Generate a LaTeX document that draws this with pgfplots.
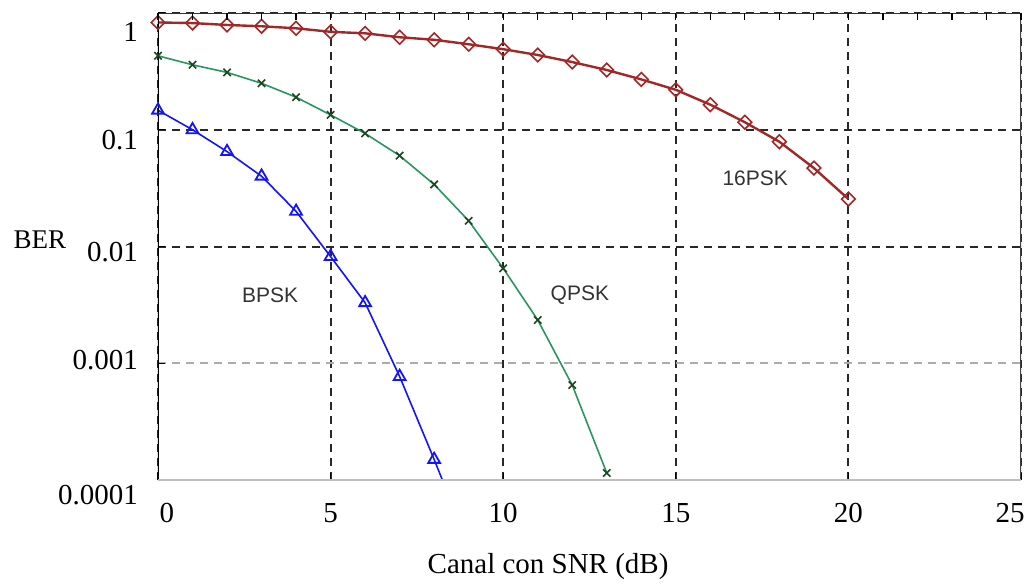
\documentclass[border=0pt]{standalone}
\usepackage{pgfplots}
\pgfplotsset{compat=1.18}
\usetikzlibrary{calc}
\usepackage{fontspec}
\setmainfont{Liberation Serif}
\newfontfamily\labfont{Liberation Sans}
\definecolor{cred}{RGB}{160,40,40}
\definecolor{cgreen}{RGB}{40,150,95}
\definecolor{cgreenm}{RGB}{30,70,35}
\definecolor{cblue}{RGB}{20,20,250}
\definecolor{gridd}{RGB}{40,40,40}
\begin{document}
\begin{tikzpicture}
\begin{axis}[
  name=main,
  scale only axis,
  width=431.5pt, height=233.5pt,
  xmin=0, xmax=25, ymin=1e-4, ymax=1,
  ymode=log,
  clip=true,
  axis line style={draw=none},
  font=\fontsize{14.5}{17}\selectfont,
  xtick={0,5,10,15,20,25},
  xticklabels={\hspace*{9pt}0,5,10,15,20,25\hspace*{11pt}},
  xtick pos=bottom,
  ytick={1e-4,1e-2,1e-1,1},
  yticklabels={\raisebox{-12.3pt}[0pt][0pt]{0.0001},\raisebox{-7.3pt}[0pt][0pt]{0.01},\raisebox{-9.8pt}[0pt][0pt]{0.1},\raisebox{-14.3pt}[0pt][0pt]{1}},
  extra y ticks={1e-3},
  extra y tick labels={\raisebox{-3.3pt}[0pt][0pt]{0.001}},
  extra y tick style={major grid style={gray!65, line width=1pt, dash pattern=on 4pt off 3pt}},
  ytick pos=left,
  tick align=inside,
  major tick length=3.5pt,
  minor tick length=2pt,
  tick style={black, line width=0.6pt},
  yticklabel style={anchor=east, xshift=-6.5pt},
  xticklabel style={yshift=-8pt},
  grid=major,
  major grid style={gridd, line width=1pt, dash pattern=on 4pt off 3pt},
  xlabel={Canal con SNR (dB)},
  xlabel style={at={(axis description cs:0.452,-0.186)}, anchor=center},
  ylabel={BER},
  ylabel style={font=\fontsize{13.5}{16}\selectfont, rotate=-90, at={(axis description cs:-0.137,0.514)}, anchor=center},
]
% 16PSK
\addplot[cred, line width=1.2pt, mark=square, mark size=2.4pt, mark options={rotate=45, solid, fill=white, line width=0.8pt}] coordinates {
(0,0.83) (1,0.82) (2,0.79) (3,0.77) (4,0.74) (5,0.69) (6,0.67) (7,0.62) (8,0.59) (9,0.54) (10,0.49) (11,0.437) (12,0.38) (13,0.325) (14,0.27) (15,0.22) (16,0.164) (17,0.116) (18,0.079) (19,0.047) (20,0.0255)
};
% QPSK
\addplot[cgreen, line width=0.8pt, mark=x, mark size=2.6pt, mark options={cgreenm, line width=0.8pt}] coordinates {
(0,0.43) (1,0.36) (2,0.31) (3,0.25) (4,0.19) (5,0.134) (6,0.093) (7,0.060) (8,0.034) (9,0.0166) (10,0.0065) (11,0.00235) (12,0.00065) (13,0.000115)
};
% BPSK
\addplot[cblue, line width=0.8pt, mark=triangle, mark size=3.4pt, mark indices={1,2,3,4,5,6,7,8,9}, mark options={fill=white, line width=0.9pt}] coordinates {
(0,0.147) (1,0.10) (2,0.065) (3,0.040) (4,0.020) (5,0.0082) (6,0.0033) (7,0.00077) (8,0.00015) (8.3,0.00009)
};
\node[font=\labfont\fontsize{10.5}{12}\selectfont, text=black!80] at (axis cs:3.25,0.00385) {BPSK};
\node[font=\labfont\fontsize{10.5}{12}\selectfont, text=black!80] at (axis cs:12.22,0.00385) {QPSK};
\node[font=\labfont\fontsize{10.5}{12}\selectfont, text=black!80] at (axis cs:17.3,0.0386) {16PSK};
% frame
\draw[black, line width=1.2pt] (rel axis cs:0,0) -- (rel axis cs:0,1);
\draw[black!80, line width=1pt] (rel axis cs:0,1) -- (rel axis cs:1,1);
\draw[black!75, line width=1pt] (rel axis cs:1,1) -- (rel axis cs:1,0);
\draw[black!25, line width=1pt] (rel axis cs:0,0) -- (rel axis cs:1,0);
\end{axis}
% top minor ticks
\begin{axis}[
  scale only axis,
  width=431.5pt, height=233.5pt,
  xmin=0, xmax=25, ymin=0, ymax=1,
  axis line style={draw=none},
  xtick={0,1,...,25}, xticklabels={},
  xtick pos=top, tick align=inside,
  major tick length=3.5pt,
  tick style={black, line width=0.6pt},
  ytick=\empty,
]
\end{axis}
\pgfresetboundingbox
\path ($(main.south west)+(-79pt,-52.5pt)$) rectangle ($(main.north east)+(2.5pt,6.5pt)$);
\end{tikzpicture}
\end{document}
